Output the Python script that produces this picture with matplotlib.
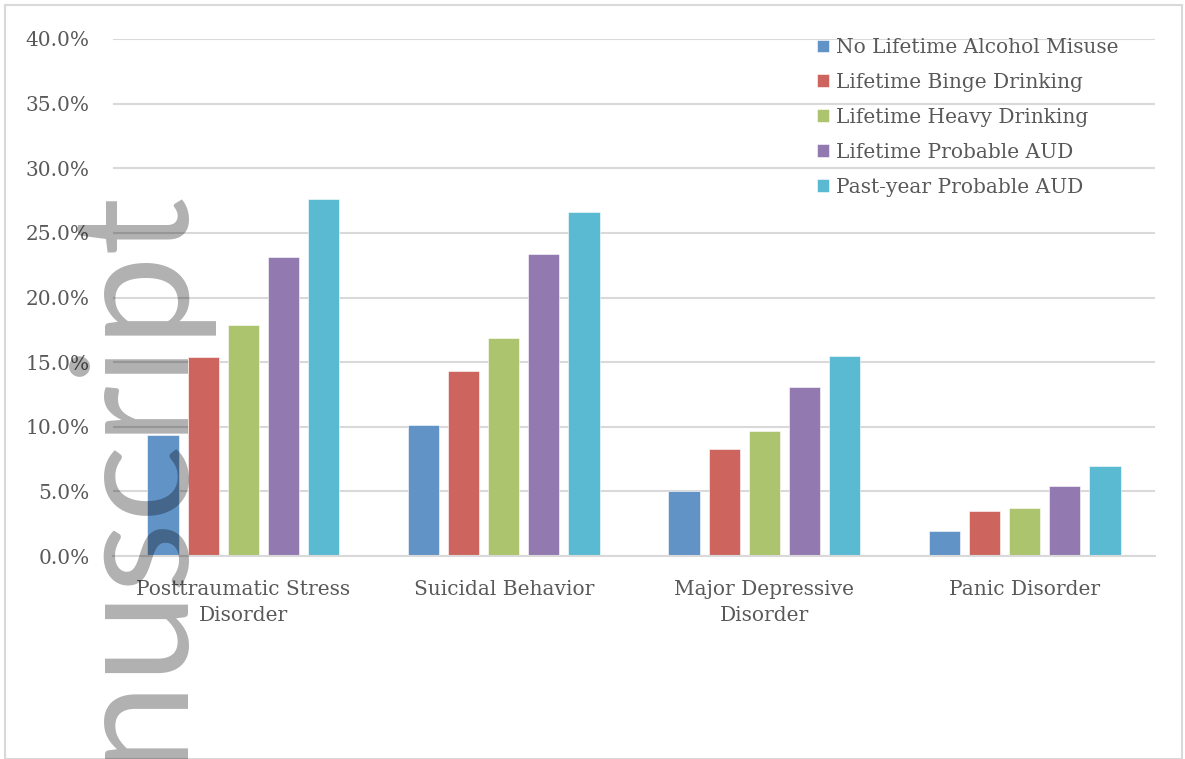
import matplotlib
matplotlib.use('Agg')
import matplotlib.pyplot as plt
import numpy as np
from matplotlib.patches import Rectangle
from matplotlib.ticker import FuncFormatter

categories = ['Posttraumatic Stress\nDisorder', 'Suicidal Behavior',
              'Major Depressive\nDisorder', 'Panic Disorder']
series = ['No Lifetime Alcohol Misuse', 'Lifetime Binge Drinking',
          'Lifetime Heavy Drinking', 'Lifetime Probable AUD',
          'Past-year Probable AUD']
no_misuse = [9.4, 10.1, 5.0, 1.9]
binge = [15.4, 14.3, 8.3, 3.5]
heavy = [17.9, 16.9, 9.7, 3.7]
probable_aud = [23.1, 23.4, 13.1, 5.4]
past_year_aud = [27.6, 26.6, 15.5, 7.0]
values = [no_misuse, binge, heavy, probable_aud, past_year_aud]
colors = ['#6193C7', '#CD655E', '#ABC46D', '#9279B0', '#59BAD1']

plt.rcParams['font.family'] = ['DejaVu Serif']
txt_color = '#595959'
grid_color = '#d9d9d9'
fs = 14.5

fig = plt.figure(figsize=(11.85, 7.59), dpi=100)
ax = fig.add_axes([113/1185, 1-556/759, (1155-113)/1185, (556-39)/759])

x = np.arange(len(categories))
width = 0.12
step = 0.154
for i, (name, vals) in enumerate(zip(series, values)):
    ax.bar(x + (i-2)*step, vals, width, color=colors[i], label=name,
           edgecolor='white', linewidth=0.4, zorder=2)

ax.set_xlim(-0.5, 3.5)
ax.set_ylim(0, 40)
ax.set_yticks(np.arange(0, 41, 5))
ax.yaxis.set_major_formatter(FuncFormatter(lambda v, p: '%.1f%%' % v))
ax.set_xticks(x)
ax.set_xticklabels(categories, linespacing=1.45)
ax.grid(axis='y', color=grid_color, linewidth=1.5, zorder=0)
ax.set_axisbelow(True)
for s in ['top', 'right', 'left']:
    ax.spines[s].set_visible(False)
ax.spines['bottom'].set_color(grid_color)
ax.spines['bottom'].set_linewidth(1.5)
ax.tick_params(axis='both', length=0, labelsize=fs, colors=txt_color)
ax.tick_params(axis='y', pad=17)
ax.tick_params(axis='x', pad=17.5)

leg = ax.legend(loc='upper left', bbox_to_anchor=(817/1185, 1-38/759),
                bbox_transform=fig.transFigure, frameon=False, fontsize=fs,
                handlelength=0.6, handleheight=0.6, handletextpad=0.35,
                labelspacing=0.79, borderpad=0, borderaxespad=0)
for t in leg.get_texts():
    t.set_color(txt_color)

# outer chart border
fig.patches.append(Rectangle((5/1185, 0), 1 - 8/1185, 1 - 5/759, transform=fig.transFigure,
                             fill=False, edgecolor=grid_color, linewidth=1.5))

# watermark (multiply-like: black with alpha)
fig.text(174/1185, 1-182/759, 'Manuscript', rotation=90, rotation_mode='anchor',
         ha='right', va='baseline', fontsize=117, family='Lato',
         color='black', alpha=0.31, zorder=10)

fig.savefig('out.png', dpi=100)
